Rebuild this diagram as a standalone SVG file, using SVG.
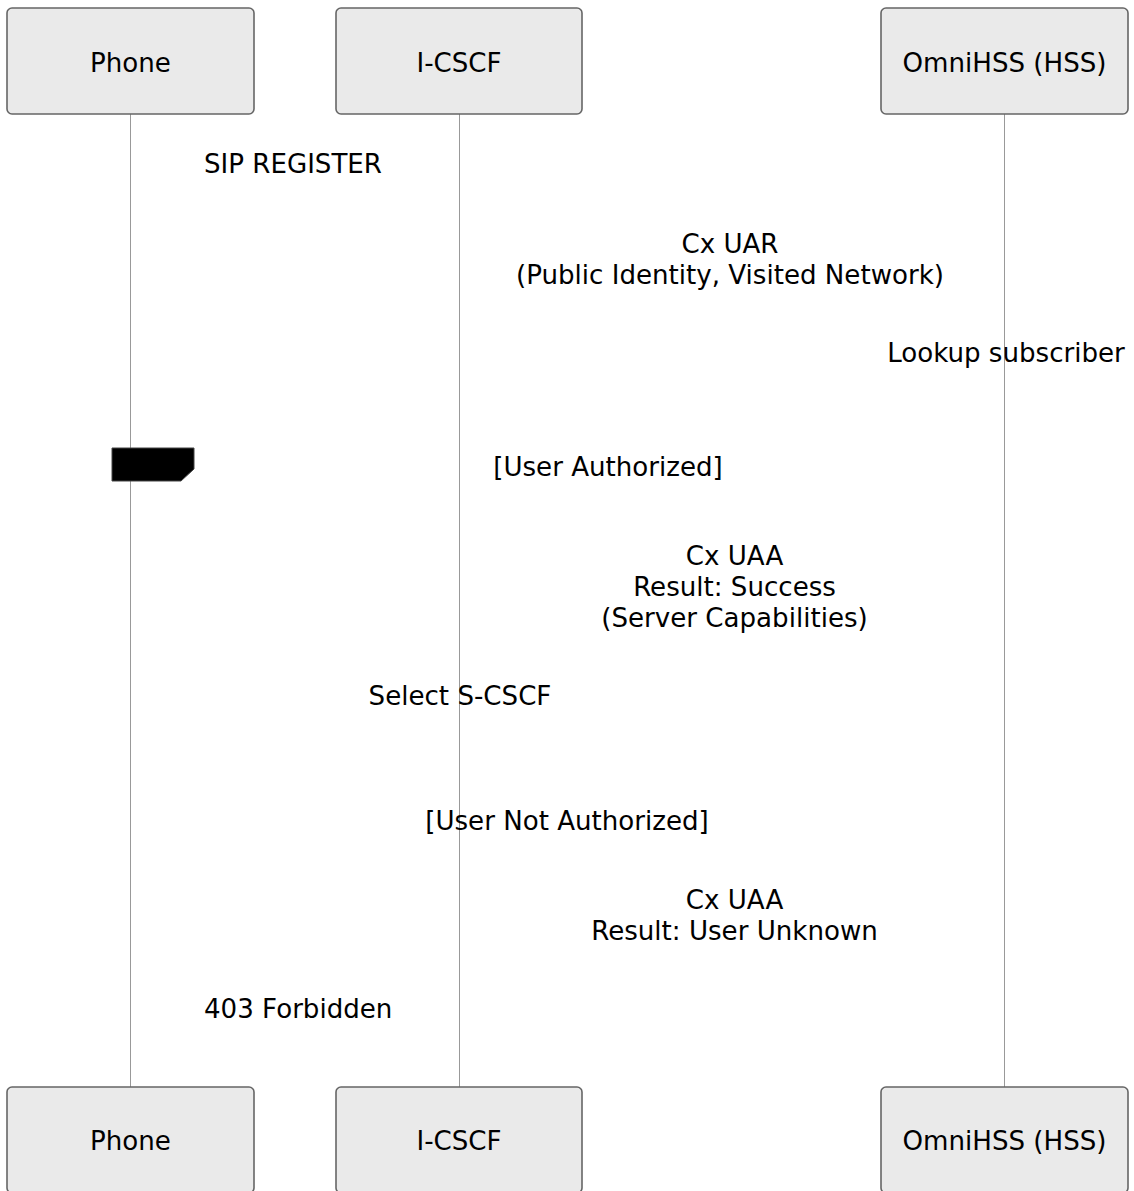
<svg xmlns="http://www.w3.org/2000/svg" width="1134" height="1191" viewBox="0 0 1134 1191">
<style>
  .actor { fill: #eaeaea; stroke: #666666; stroke-width: 1.6; }
  .lifeline { stroke: #999999; stroke-width: 1; }
  text { font-family: "DejaVu Sans", Verdana, sans-serif; font-size: 26.1px; fill: #000000; }
  .c { text-anchor: middle; }
  .labelbox { fill: #000000; stroke: #444444; stroke-width: 1; }
</style>
<rect width="1134" height="1191" fill="#ffffff"/>
<g id="connectors">
  <line class="lifeline" x1="130.5" y1="114" x2="130.5" y2="1087"/>
  <line class="lifeline" x1="459.5" y1="114" x2="459.5" y2="1087"/>
  <line class="lifeline" x1="1004.5" y1="114" x2="1004.5" y2="1087"/>
</g>
<g id="actor-phone-top">
  <rect class="actor" x="7" y="8" width="247" height="106" rx="5"/>
  <text class="c" x="130.5" y="72">Phone</text>
</g>
<g id="actor-icscf-top">
  <rect class="actor" x="336" y="8" width="246" height="106" rx="5"/>
  <text class="c" x="459" y="72">I-CSCF</text>
</g>
<g id="actor-hss-top">
  <rect class="actor" x="881" y="8" width="247" height="106" rx="5"/>
  <text class="c" x="1004.5" y="72">OmniHSS (HSS)</text>
</g>
<g id="actor-phone-bottom">
  <rect class="actor" x="7" y="1087" width="247" height="106" rx="5"/>
  <text class="c" x="130.5" y="1150">Phone</text>
</g>
<g id="actor-icscf-bottom">
  <rect class="actor" x="336" y="1087" width="246" height="106" rx="5"/>
  <text class="c" x="459" y="1150">I-CSCF</text>
</g>
<g id="actor-hss-bottom">
  <rect class="actor" x="881" y="1087" width="247" height="106" rx="5"/>
  <text class="c" x="1004.5" y="1150">OmniHSS (HSS)</text>
</g>
<g id="msg-sip-register">
  <text x="204" y="173">SIP REGISTER</text>
</g>
<g id="msg-cx-uar">
  <text class="c" x="730" y="253">Cx UAR</text>
  <text class="c" x="730" y="284">(Public Identity, Visited Network)</text>
</g>
<g id="msg-lookup">
  <text class="c" x="1006" y="362">Lookup subscriber</text>
</g>
<g id="alt-label">
  <polygon class="labelbox" points="112,448 194,448 194,469 181,481 112,481"/>
  <text class="c" x="608" y="476">[User Authorized]</text>
</g>
<g id="msg-cx-uaa-success">
  <text class="c" x="734.5" y="565">Cx UAA</text>
  <text class="c" x="734.5" y="596">Result: Success</text>
  <text class="c" x="734.5" y="627">(Server Capabilities)</text>
</g>
<g id="msg-select-scscf">
  <text class="c" x="460" y="705">Select S-CSCF</text>
</g>
<g id="alt-else">
  <text class="c" x="567" y="830">[User Not Authorized]</text>
</g>
<g id="msg-cx-uaa-unknown">
  <text class="c" x="734.5" y="909">Cx UAA</text>
  <text class="c" x="734.5" y="940">Result: User Unknown</text>
</g>
<g id="msg-403">
  <text x="204" y="1018">403 Forbidden</text>
</g>
</svg>
